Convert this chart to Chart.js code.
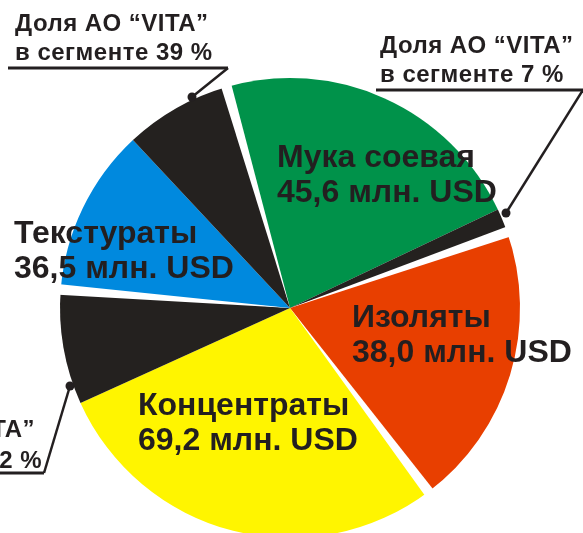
<!DOCTYPE html>
<html>
<head>
<meta charset="utf-8">
<script src="https://cdn.jsdelivr.net/npm/chart.js@4.4.1/dist/chart.umd.min.js"></script>
<style>
  html, body { margin: 0; padding: 0; background: #fff; overflow: hidden; }
  #wrap { width: 583px; height: 533px; overflow: hidden; }
</style>
</head>
<body>
<div id="wrap"><canvas id="pie" width="583" height="560"></canvas></div>
<script>
// segment totals, mln USD
const segments = ["Мука соевая", "Изоляты", "Концентраты", "Текстураты"];
const totals = [45.6, 38.0, 69.2, 36.5];
// share of AO "VITA" in segment, % (null = not shown)
const vitaShare = [7, null, 22, 39];

const segColors = ["#00924a", "#e83f00", "#fff500", "#0089de"];
const vitaColor = "#24211f";
const textColor = "#231f20";

// split every segment into the rest + VITA part
const sliceValues = [];
const sliceColors = [];
const sliceSeg = [];
totals.forEach((t, i) => {
  const s = vitaShare[i];
  if (s) {
    sliceValues.push(+(t * (100 - s) / 100).toFixed(3), +(t * s / 100).toFixed(3));
    sliceColors.push(segColors[i], vitaColor);
    sliceSeg.push(i, i);
  } else {
    sliceValues.push(t);
    sliceColors.push(segColors[i]);
    sliceSeg.push(i);
  }
});

// label spots (left x, first baseline)
const labelPos = [[277, 167], [352, 327], [138, 415], [14, 243]];
// callouts: text x, baselines, underline, dot
const callouts = [
  { seg: 0, x: 380, align: "left", y1: 53, y2: 82, ul: [376, 583, 90], dot: [506, 213] },
  { seg: 2, x: 42, align: "right", y1: 437, y2: 468, ul: [-10, 44, 473], dot: [70, 386] },
  { seg: 3, x: 15, align: "left", y1: 31, y2: 60, ul: [8, 228, 68], dot: [192, 97] }
];

const fmt = v => v.toFixed(1).replace(".", ",");

const gapPlugin = {
  id: "gaps",
  afterDatasetsDraw(chart) {
    const ctx = chart.ctx;
    const arcs = chart.getDatasetMeta(0).data;
    const d = 1.3 * Math.PI / 180;
    ctx.save();
    ctx.fillStyle = "#fff";
    arcs.forEach((arc, i) => {
      const next = (i + 1) % arcs.length;
      // white wedge only where two different segments meet
      if (sliceSeg[i] === sliceSeg[next]) return;
      const a = arc.endAngle;
      ctx.beginPath();
      ctx.moveTo(arc.x, arc.y);
      ctx.arc(arc.x, arc.y, arc.outerRadius + 6, a - d, a + d);
      ctx.closePath();
      ctx.fill();
    });
    ctx.restore();
  }
};

const labelPlugin = {
  id: "labels",
  afterDraw(chart) {
    const ctx = chart.ctx;
    ctx.save();
    ctx.fillStyle = textColor;
    ctx.textBaseline = "alphabetic";
    ctx.font = "bold 32px Arial, 'Liberation Sans', sans-serif";
    ctx.textAlign = "left";
    segments.forEach((name, i) => {
      const [x, y] = labelPos[i];
      ctx.fillText(name, x, y);
      ctx.fillText(fmt(totals[i]) + " млн. USD", x, y + 35);
    });

    ctx.font = "bold 24px Arial, 'Liberation Sans', sans-serif";
    ctx.letterSpacing = "0.5px";
    ctx.strokeStyle = textColor;
    callouts.forEach(c => {
      ctx.textAlign = c.align;
      ctx.fillText("Доля АО “VITA”", c.align === "right" ? c.x - 7 : c.x, c.y1);
      ctx.fillText("в сегменте " + vitaShare[c.seg] + " %", c.x, c.y2);
      const [x0, x1, yu] = c.ul;
      ctx.lineWidth = 3;
      ctx.beginPath();
      ctx.moveTo(x0, yu);
      ctx.lineTo(x1, yu);
      ctx.stroke();
      ctx.lineWidth = 2.5;
      ctx.beginPath();
      ctx.moveTo(x1, yu);
      ctx.lineTo(c.dot[0], c.dot[1]);
      ctx.stroke();
      ctx.beginPath();
      ctx.arc(c.dot[0], c.dot[1], 4.5, 0, Math.PI * 2);
      ctx.fill();
    });
    ctx.restore();
  }
};

new Chart(document.getElementById("pie"), {
  type: "pie",
  data: {
    labels: sliceSeg.map(i => segments[i]),
    datasets: [{
      data: sliceValues,
      backgroundColor: sliceColors,
      borderWidth: 0,
      radius: 230
    }]
  },
  options: {
    responsive: false,
    animation: false,
    devicePixelRatio: 1,
    rotation: -16,
    layout: { padding: { top: 56, bottom: 0, left: 0, right: 3 } },
    plugins: { legend: { display: false }, tooltip: { enabled: false } }
  },
  plugins: [gapPlugin, labelPlugin]
});
</script>
</body>
</html>
